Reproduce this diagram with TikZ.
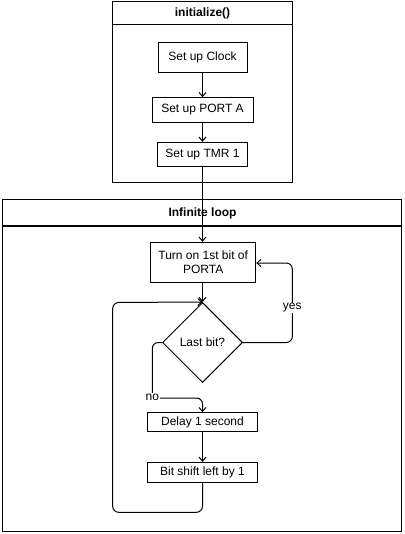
\documentclass[tikz,border=0pt]{standalone}
\usepackage{fontspec}
\setmainfont{Liberation Sans}
\usetikzlibrary{arrows.meta,shapes.geometric}
\begin{document}
\begin{tikzpicture}[x=1pt,y=-1pt,
  every node/.style={font=\fontsize{12}{14}\selectfont},
  box/.style={draw,line width=1pt,inner sep=0pt,align=center},
  frame/.style={draw,line width=1pt,inner sep=0pt},
  title/.style={font=\fontsize{12}{14}\selectfont\bfseries,inner sep=0pt},
  conn/.style={line width=1pt,-{Straight Barb[length=4pt,width=7pt]}},
  lbl/.style={fill=white,inner sep=1pt}]
\useasboundingbox (0,0) rectangle (404,534);
% top container
\node[frame,minimum width=179.6pt,minimum height=181pt] (init) at (202.5,92.2) {};
\node[title] (initt) at (202.5,13.5) {initialize()};
\draw[line width=1pt] (112.7,25) -- (292.3,25);
\node[box,minimum width=89pt,minimum height=30pt] (clock) at (202.5,57.3) {Set up Clock};
\node[box,minimum width=101pt,minimum height=24.6pt] (porta) at (202.5,110) {Set up PORT A};
\node[box,minimum width=90.6pt,minimum height=24.4pt] (tmr) at (202.5,154.5) {Set up TMR 1};
% bottom container
\node[frame,minimum width=399pt,minimum height=331.7pt] (loop) at (202.2,365.85) {};
\node[title] (loopt) at (202.5,213.5) {Infinite loop};
\draw[line width=1pt] (2.7,226) -- (401.7,226);
\node[box,minimum width=105pt,minimum height=40pt] (turn) at (203.2,262.3) {Turn on 1st bit of\\PORTA};
\node[box,diamond,minimum width=80pt,minimum height=80pt] (dec) at (202.5,342.5) {Last bit?};
\node[box,minimum width=109.6pt,minimum height=19pt] (delay) at (202.5,422.2) {Delay 1 second};
\node[box,minimum width=109.6pt,minimum height=19.7pt] (shift) at (202.5,472.2) {Bit shift left by 1};
% helper coordinates
\coordinate (yr) at (292.3,342.5);
\coordinate (yt) at (292.3,263);
\coordinate (nl) at (152.3,342.5);
\coordinate (nb) at (152.3,398);
\coordinate (nr) at (202.5,398);
\coordinate (lb) at (202.5,512.3);
\coordinate (ll) at (112.7,512.3);
\coordinate (lt) at (112.7,302.5);
% connectors
\draw[conn] (clock) -- (porta);
\draw[conn] (porta) -- (tmr);
\draw[conn] (tmr.south) -- (tmr.south |- turn.north);
\draw[conn] (dec.north |- turn.south) -- (dec.north);
\draw[conn,rounded corners=6pt] (dec.east) -- (yr) -- (yt) -- (turn.east |- yt);
\node[lbl] (yes) at (292.3,308) {yes};
\draw[conn,rounded corners=6pt] (dec.west) -- (nl) -- (nb) -- (nr) -- (delay.north);
\node[lbl] (no) at (152.3,397.5) {no};
\draw[conn] (delay) -- (shift);
\draw[conn,rounded corners=6pt] (shift.south) -- (lb) -- (ll) -- (lt) -- (dec.north);
\end{tikzpicture}
\end{document}
